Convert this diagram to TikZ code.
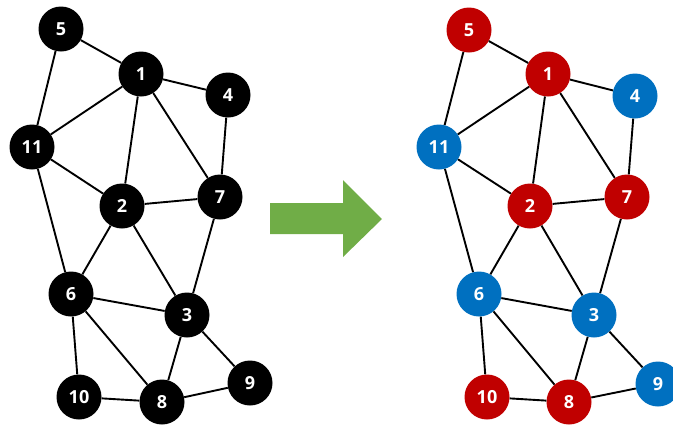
\documentclass[tikz,border=0pt]{standalone}
\usepackage{fontspec}
\setmainfont{Open Sans}
\usepackage{tikz}
\usetikzlibrary{positioning}
\definecolor{vred}{HTML}{C00000}
\definecolor{vblue}{HTML}{0070C0}
\definecolor{vgreen}{HTML}{70AD47}

\begin{document}
\begin{tikzpicture}[x=1pt,y=-1pt,
    vtx/.style={circle, minimum size=45pt, inner sep=0pt, text=white,
        font=\fontsize{18}{18}\selectfont\bfseries},
    edge/.style={line width=1.9pt}]
                    \useasboundingbox (0,0) rectangle (673,426);
                    % left graph
                    \foreach \n/\x/\y in {1/141/74, 2/122/206, 3/187/315, 4/228/95, 5/61/29,
                        6/71/294, 7/220/197, 8/162/402, 9/250/383, 10/79/397, 11/32/147}{
                        \node[vtx, fill=black] (l\n) at (\x,\y) {\n};
                    }
                    % right graph
                    \foreach \n/\x/\y/\c in {1/548/74/vred, 2/530/206/vred, 3/594/315/vblue,
                        4/635/96/vblue, 5/469/30/vred, 6/479/294/vblue, 7/627/197/vred,
                        8/569/402/vred, 9/658/384/vblue, 10/487/397/vred, 11/439/147/vblue}{
                        \node[vtx, fill=\c] (r\n) at (\x,\y) {\n};
                    }
                    \foreach \a/\b in {5/1, 5/11, 1/4, 1/11, 1/2, 1/7, 4/7, 11/2, 11/6, 2/7,
                        2/6, 2/3, 7/3, 6/3, 6/10, 6/8, 3/8, 3/9, 10/8, 8/9}{
                        \draw[edge] (l\a) -- (l\b);
                        \draw[edge] (r\a) -- (r\b);
                    }
                    % arrow
                    \fill[vgreen] (270,203) -- (343,203) -- (343,180) -- (382,219)
                        -- (343,257) -- (343,234) -- (270,234) -- cycle;
                \end{tikzpicture}
\end{document}
